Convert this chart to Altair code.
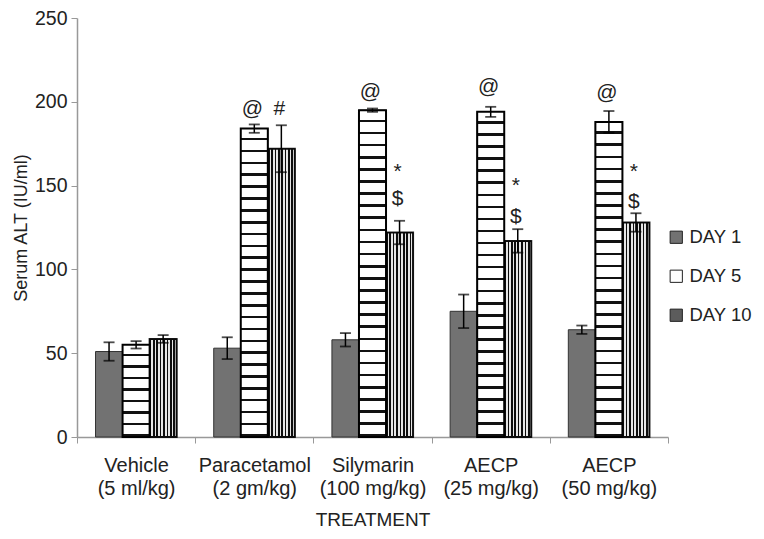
import altair as alt
import pandas as pd

treatments = ["Vehicle\n(5 ml/kg)", "Paracetamol\n(2 gm/kg)", "Silymarin\n(100 mg/kg)",
              "AECP\n(25 mg/kg)", "AECP\n(50 mg/kg)"]
days = ["DAY 1", "DAY 5", "DAY 10"]
day1 = [51, 53, 58, 75, 64]
day1_err = [5.5, 6.5, 4, 10, 2.5]
day5 = [55, 184, 195, 194, 188]
day5_err = [2.2, 2.5, 1, 3, 6.5]
day10 = [58.5, 172, 122, 117, 128]
day10_err = [2.3, 14, 7, 7, 5.5]

ann_treat = [1, 1, 2, 2, 2, 3, 3, 3, 4, 4, 4]
ann_day = ["DAY 5", "DAY 10", "DAY 5", "DAY 10", "DAY 10", "DAY 5", "DAY 10", "DAY 10",
           "DAY 5", "DAY 10", "DAY 10"]
ann_sym = ["@", "#", "@", "*", "$", "@", "*", "$", "@", "*", "$"]
ann_y = [196, 196, 206, 158, 142, 209, 150, 131, 205, 158, 140]

PLOT_H = 419
rows = []
for i, t in enumerate(treatments):
    for d, vals, errs in ((days[0], day1, day1_err), (days[1], day5, day5_err), (days[2], day10, day10_err)):
        rows.append({"treatment": t, "day": d, "value": vals[i],
                     "lo": vals[i] - errs[i], "hi": vals[i] + errs[i], "idx": i})
df = pd.DataFrame(rows)
ann = pd.DataFrame({"treatment": [treatments[i] for i in ann_treat], "day": ann_day,
                    "sym": ann_sym, "y": ann_y})

FONT = "Liberation Sans"
xenc = alt.X("treatment:N", sort=treatments,
             scale=alt.Scale(paddingInner=0, paddingOuter=0),
             axis=alt.Axis(title="TREATMENT", labelAngle=0, labelExpr="split(datum.label, '\\n')",
                           labelFontSize=20, labelFont=FONT, labelColor="#222",
                           labelLineHeight=23, labelPadding=12, tickBand="extent",
                           tickSize=6, tickColor="#999", domainColor="#999", domainWidth=1.5,
                           titleFontSize=19, titleFont=FONT, titleFontWeight="normal",
                           titleColor="#222", titlePadding=12))
xoff = alt.XOffset("day:N", sort=days, scale=alt.Scale(domain=days, paddingOuter=0.685, paddingInner=0))
yscale = alt.Scale(domain=[0, 250])
yenc = alt.Y("value:Q", scale=yscale,
             axis=alt.Axis(title="Serum ALT (IU/ml)", values=[0, 50, 100, 150, 200, 250],
                           grid=False, labelFontSize=19.5, labelFont=FONT, labelColor="#222",
                           tickSize=6, tickColor="#999", domainColor="#999", domainWidth=1.5,
                           labelPadding=4,
                           titleFontSize=18, titleFont=FONT, titleFontWeight="normal",
                           titleColor="#222", titlePadding=4))

base = alt.Chart(df)

bars = base.mark_bar(stroke="#333", strokeWidth=1).encode(
    x=xenc, xOffset=xoff, y=yenc,
    color=alt.Color("day:N", sort=days,
                    scale=alt.Scale(domain=days, range=["#727272", "#ffffff", "#5c5c5c"]),
                    legend=alt.Legend(title=None, orient="none", legendX=590, legendY=210,
                                      symbolType="square", symbolSize=150,
                                      symbolStrokeColor="#222", symbolStrokeWidth=1,
                                      labelFontSize=18.5, labelFont=FONT, labelColor="#222",
                                      rowPadding=20, labelOffset=4)),
)

# checkerboard-like texture for DAY 10
n10 = 8
stops10 = []
for k in range(n10):
    a = k / n10
    b = (k + 0.5) / n10
    c = (k + 1) / n10
    stops10 += [alt.GradientStop(color="#000000", offset=a), alt.GradientStop(color="#000000", offset=b),
                alt.GradientStop(color="#ffffff", offset=b), alt.GradientStop(color="#ffffff", offset=c)]
tex10 = base.transform_filter(alt.datum.day == "DAY 10").mark_bar(
    fill=alt.LinearGradient(gradient="linear", stops=stops10, x1=0, x2=1, y1=0, y2=0),
    stroke="#000", strokeWidth=2, opacity=0.85).encode(x=xenc, xOffset=xoff, y=yenc)

# chevron-like stripes for DAY 5, one layer per bar so stripe spacing stays constant
tex5 = []
for i, t in enumerate(treatments):
    n = max(2, round(day5[i] * PLOT_H / 250 / 12))
    st = []
    for k in range(n):
        a = k / n
        b = (k + 0.78) / n
        c = (k + 1) / n
        st += [alt.GradientStop(color="#ffffff", offset=a), alt.GradientStop(color="#ffffff", offset=b),
               alt.GradientStop(color="#111111", offset=b), alt.GradientStop(color="#111111", offset=c)]
    tex5.append(base.transform_filter((alt.datum.day == "DAY 5") & (alt.datum.idx == i)).mark_bar(
        fill=alt.LinearGradient(gradient="linear", stops=st, x1=0, x2=0, y1=0, y2=1),
        stroke="#000", strokeWidth=2).encode(x=xenc, xOffset=xoff, y=yenc))

err = base.mark_rule(color="#000", strokeWidth=1.5).encode(
    x=xenc, xOffset=xoff, y=alt.Y("lo:Q", scale=yscale), y2="hi:Q")
cap_hi = base.mark_tick(color="#000", thickness=1.8, size=11).encode(
    x=xenc, xOffset=xoff, y=alt.Y("hi:Q", scale=yscale))
cap_lo = base.mark_tick(color="#000", thickness=1.8, size=11).encode(
    x=xenc, xOffset=xoff, y=alt.Y("lo:Q", scale=yscale))

txt = alt.Chart(ann).mark_text(font=FONT, fontSize=21, color="#222", baseline="middle", dx=-2).encode(
    x=xenc, xOffset=xoff, y=alt.Y("y:Q", scale=yscale), text="sym:N")

chart = alt.layer(bars, tex10, *tex5, err, cap_hi, cap_lo, txt).properties(
    width=591, height=PLOT_H, autosize="none",
    padding={"left": 69, "top": 10, "right": 88, "bottom": 94},
).configure_view(stroke=None)

chart.save("out.html", embed_options={"renderer": "svg", "actions": False})
